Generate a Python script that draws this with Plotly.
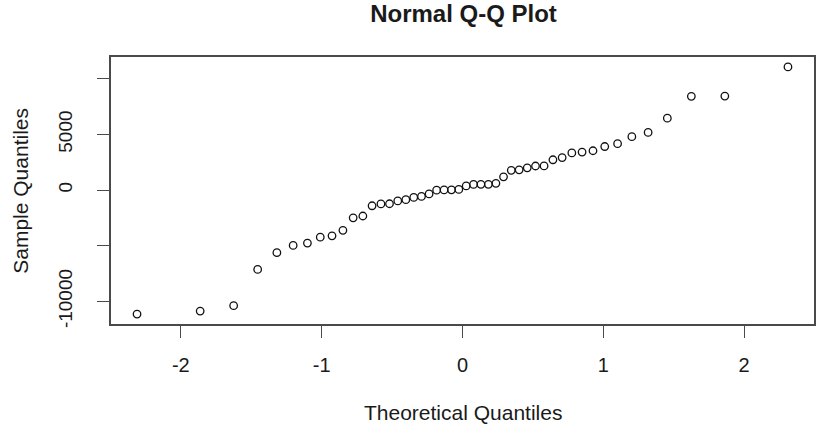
import plotly.graph_objects as go

# Theoretical quantiles (n = 48, ppoints a = 0.5)
theoretical = [
    -2.3110, -1.8627, -1.6250, -1.4544, -1.3180, -1.2025, -1.1012, -1.0100,
    -0.9265, -0.8491, -0.7764, -0.7076, -0.6421, -0.5791, -0.5184, -0.4596,
    -0.4023, -0.3462, -0.2913, -0.2372, -0.1838, -0.1309, -0.0784, -0.0261,
    0.0261, 0.0784, 0.1309, 0.1838, 0.2372, 0.2913, 0.3462, 0.4023,
    0.4596, 0.5184, 0.5791, 0.6421, 0.7076, 0.7764, 0.8491, 0.9265,
    1.0100, 1.1012, 1.2025, 1.3180, 1.4544, 1.6250, 1.8627, 2.3110,
]

# Sample quantiles
sample = [
    -11146, -10875, -10388, -7131, -5625, -4975, -4768, -4236,
    -4109, -3622, -2494, -2332, -1412, -1250, -1230, -979,
    -862, -663, -573, -347, -14, 10, 20, 59,
    374, 505, 512, 518, 600, 1186, 1773, 1818,
    1998, 2160, 2170, 2720, 2918, 3333, 3415, 3532,
    3911, 4163, 4795, 5174, 6455, 8420, 8440, 11065,
]

x_tick_vals = [-2, -1, 0, 1, 2]
x_tick_text = ["-2", "-1", "0", "1", "2"]
y_tick_vals = [-10000, -5000, 0, 5000, 10000]
y_tick_text = ["-10000", "", "0", "5000", ""]

title_text = "Normal Q-Q Plot"
x_title = "Theoretical Quantiles"
y_title = "Sample Quantiles"


def r_range(vals):
    lo, hi = min(vals), max(vals)
    pad = (hi - lo) * 0.04
    return [lo - pad, hi + pad]


FONT = "Liberation Sans, Arial, sans-serif"
INK = "#1a1a1a"
BOX = "#4a4a4a"

fig = go.Figure()
fig.add_trace(go.Scatter(
    x=theoretical, y=sample, mode="markers",
    marker=dict(symbol="circle-open", size=7.5, color="#111111",
                line=dict(width=1.3, color="#111111")),
    showlegend=False, hoverinfo="x+y",
))

fig.update_layout(
    width=817, height=425,
    margin=dict(l=111, r=1, t=57, b=101),
    paper_bgcolor="white", plot_bgcolor="white",
    font=dict(family=FONT, color=INK, size=19),
    title=dict(text="<b>" + title_text + "</b>", x=463.5 / 817, xref="container",
               xanchor="center", y=1 - 14 / 425, yref="container", yanchor="middle",
               font=dict(size=24, family=FONT, color=INK)),
    xaxis=dict(range=r_range(theoretical), tickvals=x_tick_vals, ticktext=x_tick_text,
               showgrid=False, zeroline=False, showline=True, mirror=True,
               linecolor=BOX, linewidth=1.5, ticks="outside", ticklen=12,
               tickwidth=1.3, tickcolor=BOX, ticklabelstandoff=10,
               tickfont=dict(size=20, color=INK)),
    yaxis=dict(range=r_range(sample), tickvals=y_tick_vals, ticktext=y_tick_text,
               showgrid=False, zeroline=False, showline=True, mirror=True,
               linecolor=BOX, linewidth=1.5, ticks="outside", ticklen=12,
               tickwidth=1.3, tickcolor=BOX, tickangle=-90, ticklabelstandoff=18,
               tickfont=dict(size=19, color=INK)),
    annotations=[
        dict(text=x_title, xref="paper", yref="paper", x=0.5,
             y=(324 - 412) / 267, xanchor="center", yanchor="middle",
             showarrow=False, font=dict(size=21, color=INK)),
        dict(text=y_title, xref="paper", yref="paper", x=(20 - 111) / 705,
             y=0.5, xanchor="center", yanchor="middle", textangle=-90,
             showarrow=False, font=dict(size=21, color=INK)),
    ],
)

fig.write_html("out.html")
